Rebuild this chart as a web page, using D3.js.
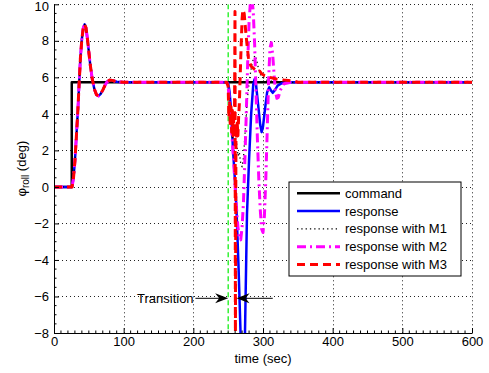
<!DOCTYPE html>
<html>
<head>
<meta charset="utf-8">
<script src="https://cdn.jsdelivr.net/npm/d3@7"></script>
<style>
    body { margin: 0; background: #fff; }
    text { font-family: "Liberation Sans", Arial, Helvetica, sans-serif; }
</style>
</head>
<body>
<div id="chart"></div>
<script>
// shared response before the transition (all four responses overlap here)
const tRise = [0, 25, 26, 28, 30, 32, 34, 36, 38, 40, 42, 44, 46, 48, 50, 52, 55, 58, 61, 64, 67, 70, 73, 76, 80, 85, 90, 100, 150, 200, 248];
const vRise = [0, 0, 0, 0.5, 1.4, 2.7, 4.0, 5.6, 7.1, 8.1, 8.7, 8.9, 8.7, 8.1, 7.4, 6.7, 5.9, 5.35, 5.05, 4.98, 5.1, 5.3, 5.55, 5.75, 5.85, 5.82, 5.76, 5.73, 5.73, 5.73, 5.73];

// settled tail
const tTail = [350, 600];
const vTail = [5.73, 5.73];

// command step
const tCmd = [0, 25.5, 25.5, 600];
const vCmd = [0, 0, 5.73, 5.73];

// response (no modification)
const tResp = [250, 252, 254, 257, 260, 262, 265, 268, 271, 274, 277, 280, 283, 286, 288, 290, 293, 296, 298, 300, 303, 306, 309, 312, 314, 317, 321, 327, 335];
const vResp = [5.7, 5.2, 4.3, 2.0, 0.2, -1.3, -4.5, -8.3, -10.5, -8.3, -1.5, 1.5, 4.0, 5.6, 5.9, 5.6, 4.5, 3.4, 3.0, 3.3, 4.3, 5.2, 5.45, 5.25, 5.15, 5.3, 5.55, 5.68, 5.73];

// response with M1
const tM1 = [250, 252, 254, 256, 258, 260, 262, 264, 266, 268, 270, 272, 274, 276, 278, 281, 284, 287, 289, 291, 294, 297, 300, 305, 310, 320, 330];
const vM1 = [5.6, 4.9, 4.2, 2.6, 2.9, 2.2, 2.4, 1.7, 1.9, 1.3, 1.1, 1.6, 2.8, 4.0, 5.0, 6.0, 6.7, 7.1, 7.2, 6.9, 6.4, 6.1, 6.0, 5.85, 5.8, 5.75, 5.73];

// response with M2
const tM2 = [250, 252, 254, 256, 258, 260, 262, 264, 266, 268, 270, 272, 274, 276, 278, 280, 282, 284, 286, 288, 290, 292, 294, 296, 298, 300, 302, 304, 306, 308, 310, 312, 314, 316, 318, 320, 322, 325, 330, 340];
const vM2 = [5.5, 4.6, 3.6, 2.5, 1.3, 0.0, -1.2, -2.2, -2.8, -2.9, -2.2, -0.8, 1.5, 4.0, 6.8, 9.0, 10.2, 10.4, 9.6, 7.8, 5.2, 2.6, 0.4, -1.2, -2.3, -2.5, -1.6, 0.4, 3.0, 5.8, 7.6, 7.9, 7.2, 6.1, 5.2, 4.85, 4.9, 5.3, 5.65, 5.73];

// response with M3
const tM3 = [250, 251, 252, 253, 254, 255, 256, 257, 258, 259, 259.8, 260.4, 261.2, 262, 263, 264, 265, 266, 268, 270, 271, 273, 275, 277, 279, 281, 283, 286, 289, 292, 295, 298, 302, 306, 310, 315, 320, 330, 345];
const vM3 = [5.5, 3.8, 4.6, 3.3, 4.4, 3.0, 4.2, 2.8, 3.8, 3.2, 9.6, -8.3, 3.0, 2.6, 3.5, 2.8, 3.8, 4.5, 7.0, 9.2, 9.7, 9.5, 8.6, 7.8, 7.1, 6.8, 6.6, 6.5, 6.4, 6.3, 6.35, 6.2, 6.1, 6.05, 6.0, 5.95, 5.9, 5.85, 5.8];

const xTicks = [0, 100, 200, 300, 400, 500, 600];
const yTicks = [-8, -6, -4, -2, 0, 2, 4, 6, 8, 10];
const transitionStart = 250;
const transitionEnd = 262;

const svgWidth = 489;
const svgHeight = 373;
const plot = { left: 54, right: 472, top: 4.3, bottom: 333 };

const svg = d3.select('#chart')
    .append('svg')
    .attr('width', svgWidth)
    .attr('height', svgHeight);

const x = d3.scaleLinear().domain([0, 600]).range([plot.left, plot.right]);
const y = d3.scaleLinear().domain([-8, 10]).range([plot.bottom, plot.top]);

svg.append('defs').append('clipPath').attr('id', 'clip')
    .append('rect')
    .attr('x', plot.left).attr('y', plot.top)
    .attr('width', plot.right - plot.left).attr('height', plot.bottom - plot.top);

// dotted grid
const grid = svg.append('g').attr('stroke', '#222').attr('stroke-width', 1).attr('stroke-dasharray', '1,3');
grid.selectAll('.gx').data(xTicks.slice(1)).enter().append('line')
    .attr('x1', d => Math.round(x(d)) + 0.5).attr('x2', d => Math.round(x(d)) + 0.5)
    .attr('y1', plot.top).attr('y2', plot.bottom);
grid.selectAll('.gy').data(yTicks.slice(1)).enter().append('line')
    .attr('x1', plot.left).attr('x2', plot.right)
    .attr('y1', d => Math.round(y(d)) + 0.5).attr('y2', d => Math.round(y(d)) + 0.5);

// build series
const join = (ts, vs) => ts.map((t, i) => [t, vs[i]]);
const rise = join(tRise, vRise);
const tail = join(tTail, vTail);

const series = [
    { name: 'command', pts: join(tCmd, vCmd), color: '#000', width: 2.5, dash: null },
    { name: 'response', pts: rise.concat(join(tResp, vResp), tail), color: '#0000ff', width: 2.5, dash: null },
    { name: 'response with M1', pts: rise.concat(join(tM1, vM1), tail), color: '#000', width: 1.3, dash: '1.3,3' },
    { name: 'response with M2', pts: rise.concat(join(tM2, vM2), tail), color: '#ff00ff', width: 3, dash: '9,4,2,4' },
    { name: 'response with M3', pts: rise.concat(join(tM3, vM3), tail), color: '#ff0000', width: 3, dash: '8,5' }
];

const line = d3.line().x(d => x(d[0])).y(d => y(d[1]));

const lines = svg.append('g').attr('clip-path', 'url(#clip)');

// transition marker
lines.append('line')
    .attr('x1', x(transitionStart)).attr('x2', x(transitionStart))
    .attr('y1', plot.top).attr('y2', plot.bottom)
    .attr('stroke', '#00ee00').attr('stroke-width', 1.2).attr('stroke-dasharray', '5,3');

lines.selectAll('.series').data(series).enter().append('path')
    .attr('class', 'series')
    .attr('d', d => line(d.pts))
    .attr('fill', 'none')
    .attr('stroke', d => d.color)
    .attr('stroke-width', d => d.width)
    .attr('stroke-dasharray', d => d.dash)
    .attr('stroke-linejoin', 'round');

// axes with inward ticks
const xAxis = svg.append('g').attr('transform', `translate(0, ${plot.bottom})`)
    .call(d3.axisBottom(x).tickValues(xTicks).tickSize(-5).tickSizeOuter(0).tickPadding(4));
const yAxis = svg.append('g').attr('transform', `translate(${plot.left}, 0)`)
    .call(d3.axisLeft(y).tickValues(yTicks).tickSize(-5).tickSizeOuter(0).tickPadding(5));

[xAxis, yAxis].forEach(g => {
    g.selectAll('text').attr('font-size', 13).attr('fill', '#000')
        .style('font-family', '"Liberation Sans", Arial, sans-serif');
    g.select('.domain').attr('stroke', '#000').attr('stroke-width', 1);
    g.selectAll('.tick line').attr('stroke', '#000');
});
// keep the top label inside the picture
yAxis.selectAll('.tick text').filter(d => d === 10).attr('dy', '0.45em');

// minor ticks
const minorX = d3.range(0, 601, 10).filter(d => d % 100 !== 0);
const minorY = d3.range(-8, 10.01, 0.5).filter(d => Math.abs(d % 2) > 0.01);
svg.append('g').selectAll('line').data(minorX).enter().append('line')
    .attr('x1', d => x(d)).attr('x2', d => x(d))
    .attr('y1', plot.bottom).attr('y2', plot.bottom - 2.5)
    .attr('stroke', '#000');
svg.append('g').selectAll('line').data(minorY).enter().append('line')
    .attr('x1', plot.left).attr('x2', plot.left + 2.5)
    .attr('y1', d => y(d)).attr('y2', d => y(d))
    .attr('stroke', '#000');

// axis labels
svg.append('text')
    .attr('x', (plot.left + plot.right) / 2).attr('y', 363)
    .attr('text-anchor', 'middle').attr('font-size', 13)
    .text('time (sec)');

const ylab = svg.append('text')
    .attr('transform', `translate(26, ${(plot.top + plot.bottom) / 2}) rotate(-90)`)
    .attr('text-anchor', 'middle').attr('font-size', 13);
ylab.append('tspan').text('φ');
ylab.append('tspan').attr('font-size', 10).attr('dy', 3).text('roll');
ylab.append('tspan').attr('dy', -3).text(' (deg)');

// transition annotation
const ay = y(-6.1);
function arrow(fromT, toT) {
    const x0 = x(fromT), x1 = x(toT);
    const dir = Math.sign(x1 - x0);
    svg.append('line')
        .attr('x1', x0).attr('x2', x1 - dir * 6)
        .attr('y1', ay).attr('y2', ay)
        .attr('stroke', '#000').attr('stroke-width', 1);
    svg.append('path')
        .attr('d', `M${x1},${ay} L${x1 - dir * 13},${ay - 5} L${x1 - dir * 9},${ay} L${x1 - dir * 13},${ay + 5} Z`)
        .attr('fill', '#000');
}
arrow(203, transitionStart);
arrow(314, transitionEnd);

svg.append('text')
    .attr('x', 137).attr('y', ay + 4.5)
    .attr('font-size', 13)
    .text('Transition');

// legend
const legend = svg.append('g');
legend.append('rect')
    .attr('x', 289).attr('y', 182).attr('width', 172).attr('height', 94)
    .attr('fill', '#fff').attr('stroke', '#000').attr('stroke-width', 1);

const rows = legend.selectAll('.row').data(series).enter().append('g')
    .attr('transform', (d, i) => `translate(0, ${193.3 + i * 17.8})`);
rows.append('line')
    .attr('x1', 297).attr('x2', 340)
    .attr('stroke', d => d.color)
    .attr('stroke-width', d => d.width)
    .attr('stroke-dasharray', d => d.dash);
rows.append('text')
    .attr('x', 345).attr('y', 4.5)
    .attr('font-size', 13)
    .text(d => d.name);
</script>
</body>
</html>
